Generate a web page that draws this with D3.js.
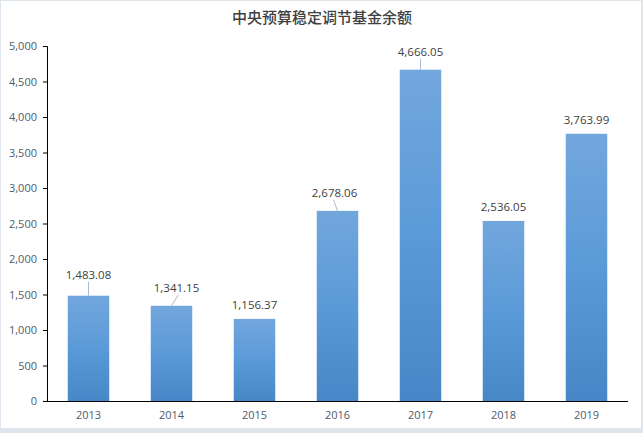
<!DOCTYPE html>
<html><head><meta charset="utf-8">
<script src="https://cdn.jsdelivr.net/npm/d3@7"></script>
<style>
html,body{margin:0;padding:0;background:#dfe5ec;}
svg{display:block;}
</style></head>
<body>
<svg id="c" width="643" height="433"></svg>
<script>
const title = "中央预算稳定调节基金余额";
const years = ["2013","2014","2015","2016","2017","2018","2019"];
const values = [1483.08, 1341.15, 1156.37, 2678.06, 4666.05, 2536.05, 3763.99];
const yTicks = [0,500,1000,1500,2000,2500,3000,3500,4000,4500,5000];
// label nudges (dx, dy gap above bar) with leader line flag
const labelDx = [0, 5, 0, -3, 0, 0, 0];
const labelGap = [17, 14, 10, 14, 14, 10, 10];
const leader = [true, true, false, true, true, false, false];

const svg = d3.select("#c");
svg.append("rect").attr("x",1).attr("y",1).attr("width",640).attr("height",427).attr("fill","#fff");

const m = {l:47, r:628, t:46, b:401};
const x = d3.scaleBand().domain(years).range([m.l, m.r]).paddingInner(0.5).paddingOuter(0.25);
const y = d3.scaleLinear().domain([0,5000]).range([m.b, m.t]);

const defs = svg.append("defs");
const g = defs.append("linearGradient").attr("id","bg").attr("x1",0).attr("y1",0).attr("x2",0).attr("y2",1);
g.append("stop").attr("offset","0%").attr("stop-color","#72a7dd");
g.append("stop").attr("offset","50%").attr("stop-color","#5b9ad8");
g.append("stop").attr("offset","100%").attr("stop-color","#4787c7");

svg.append("text").attr("x",322).attr("y",23).attr("text-anchor","middle")
  .attr("font-family","'Noto Sans CJK SC', sans-serif").attr("font-size",15).attr("font-weight",500)
  .attr("fill","#404040").text(title);

svg.selectAll("rect.bar").data(values).enter().append("rect").attr("class","bar")
  .attr("x",(d,i)=>x(years[i])).attr("width",x.bandwidth())
  .attr("y",d=>y(d)).attr("height",d=>y(0)-y(d)).attr("fill","url(#bg)");

const yAxis = d3.axisLeft(y).tickValues(yTicks).tickFormat(d3.format(",")).tickSize(4).tickPadding(6);
const ya = svg.append("g").attr("transform",`translate(${m.l},0)`).call(yAxis);
ya.select(".domain").attr("stroke","#000").attr("d",`M-4,${m.t}.5H0.5V${m.b}`);
ya.selectAll(".tick line").attr("stroke","#000");
ya.selectAll("text").attr("font-family","'Open Sans', sans-serif").attr("font-size",11).attr("fill","#4f5b6b");

const xAxis = d3.axisBottom(x).tickSize(0).tickPadding(10);
const xa = svg.append("g").attr("transform",`translate(0,${m.b})`).call(xAxis);
xa.select(".domain").attr("stroke","#000").attr("d",`M${m.l},0.5H${m.r}`);
xa.selectAll("text").attr("font-family","'Open Sans', sans-serif").attr("font-size",11).attr("fill","#4f5b6b");

const fmt = d3.format(",.2f");
values.forEach((v,i)=>{
  const cx = x(years[i]) + x.bandwidth()/2;
  const top = y(v);
  const ly = top - labelGap[i];
  const lx = cx + labelDx[i];
  if (leader[i]) {
    svg.append("line").attr("x1",cx).attr("y1",top).attr("x2",lx + (labelDx[i]>0?2:(labelDx[i]<0?-1:0))).attr("y2",ly+3)
      .attr("stroke","#a6bcd6").attr("stroke-width",1);
  }
  svg.append("text").attr("x",lx).attr("y",ly).attr("text-anchor","middle")
    .attr("font-family","'Open Sans', sans-serif").attr("font-size",11.5).attr("fill","#404040")
    .text(fmt(v));
});
</script>
</body></html>
